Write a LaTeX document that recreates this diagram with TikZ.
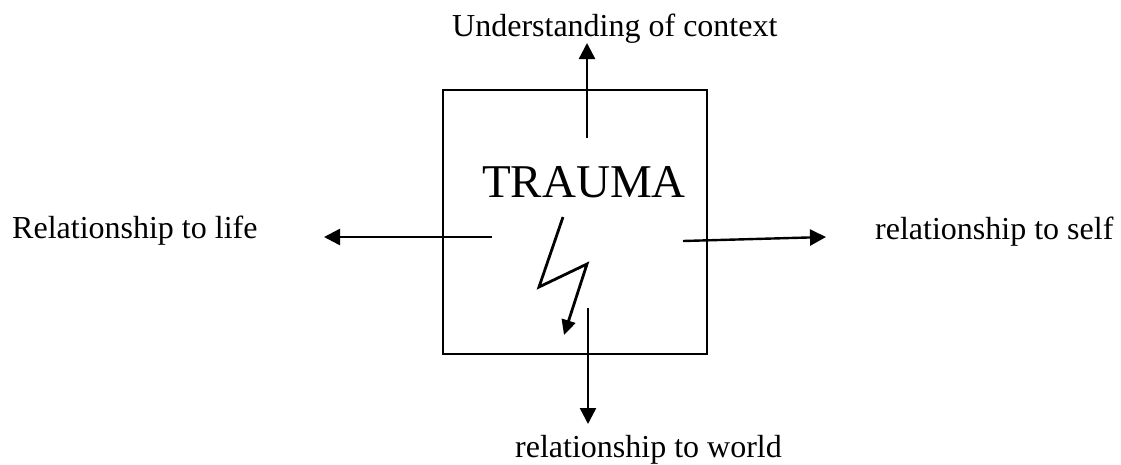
\documentclass[tikz,border=0pt]{standalone}
\usepackage{fontspec}
\setmainfont{Liberation Serif}
\usetikzlibrary{arrows.meta}
\begin{document}
\begin{tikzpicture}[x=1pt,y=-1pt,
  lbl/.style={anchor=base west,inner sep=0pt,font=\fontsize{32}{38}\selectfont},
  conn/.style={line width=2.4pt,-{Triangle[length=16pt,width=16pt]}},
  bolt/.style={line width=2.8pt,-{Triangle[length=15pt,width=14pt]}}]
\useasboundingbox (0,0) rectangle (1121,464);
\node[draw,line width=2.2pt,minimum width=264pt,minimum height=264pt,inner sep=0pt] (box) at (575,222) {};
\node[anchor=base west,inner sep=0pt,font=\fontsize{47}{56}\selectfont] (trauma) at (482,197) {TRAUMA};
\node[lbl] (ctx) at (452,36) {Understanding of context};
\node[lbl] (life) at (12,238) {Relationship to life};
\node[lbl] (self) at (875,239) {relationship to self};
\node[lbl] (world) at (515,457) {relationship to world};
\coordinate (ts) at (587,138);
\coordinate (te) at (587,43);
\coordinate (ls) at (492,237);
\coordinate (le) at (324,237);
\coordinate (rs) at (683,241);
\coordinate (re) at (826,237);
\coordinate (bs) at (588,308);
\coordinate (be) at (588,424);
\coordinate (b1) at (563,217);
\coordinate (b2) at (539,287);
\coordinate (b3) at (587,264);
\coordinate (b4) at (564,335);
\draw[conn] (ts) -- (te);
\draw[conn] (ls) -- (le);
\draw[conn] (rs) -- (re);
\draw[conn] (bs) -- (be);
\draw[bolt,line join=miter] (b1) -- (b2) -- (b3) -- (b4);
\end{tikzpicture}
\end{document}
